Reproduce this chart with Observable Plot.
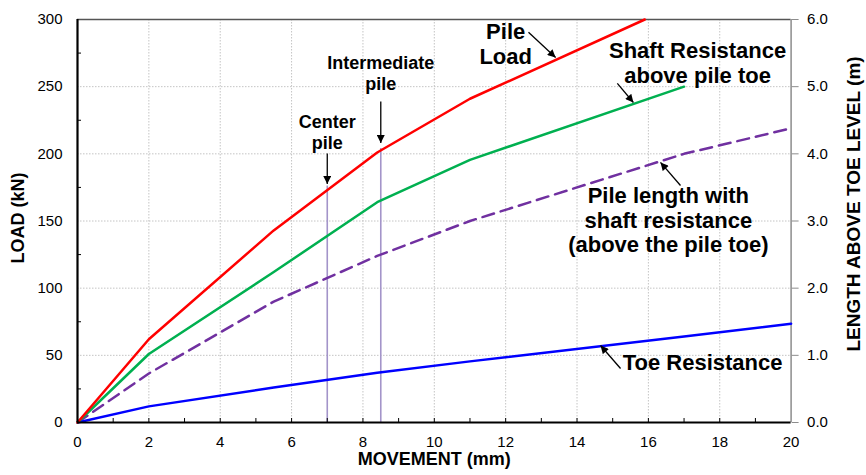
<!DOCTYPE html>
<html><head><meta charset="utf-8">
<script src="https://cdn.jsdelivr.net/npm/d3@7"></script>
<script src="https://cdn.jsdelivr.net/npm/@observablehq/plot@0.6"></script>
<style>body{margin:0;background:#fff} svg{display:block}</style>
</head><body><div id="chart"></div>
<script>
// ---- data ----
const pileLoadMovement = [0, 2, 5.5, 8.4, 11, 15.9];
const pileLoadKN       = [0, 62, 143, 201, 241, 300];
const shaftMovement    = [0, 2, 5.5, 8.4, 11, 17];
const shaftKN          = [0, 51, 112, 164, 195.5, 250];
const toeMovement      = [0, 2, 5.5, 8.4, 11, 17, 20];
const toeKN            = [0, 12, 26, 37, 45.5, 64, 73.5];
const lengthMovement   = [0, 2, 5.5, 8.4, 11, 17, 20];
const lengthM          = [0, 0.73, 1.8, 2.48, 3.0, 4.0, 4.38];
const pileMarkMovement = [7.0, 8.5];
const pileMarkTopKN    = [176, 204];

const xTicks   = [0, 2, 4, 6, 8, 10, 12, 14, 16, 18, 20];
const xMinor   = d3.range(1, 20, 1);
const yTicks   = [0, 50, 100, 150, 200, 250, 300];
const yMinor   = [25, 75, 125, 175, 225, 275];
const mTicks   = [0, 1, 2, 3, 4, 5, 6];
const KN_PER_M = 50; // right axis 0–6 m aligned with left axis 0–300 kN

const labelText = ["Pile\nLoad", "Shaft Resistance\nabove pile toe", "Pile length with\nshaft resistance\n(above the pile toe)", "Toe Resistance"];
const labelX    = [12.0, 17.38, 16.56, 17.52];
const labelY    = [282, 268, 151, 44.7];
const smallText = ["Intermediate\npile", "Center\npile"];
const smallX    = [8.5, 7.0];
const smallY    = [260.5, 216.6];
const arrowX1 = [12.64, 8.5, 7.0, 15.13, 16.9, 15.22];
const arrowY1 = [290.5, 239, 200.3, 252.4, 176.4, 40.2];
const arrowX2 = [13.4, 8.5, 7.0, 15.58, 16.34, 14.66];
const arrowY2 = [271.7, 208, 177.5, 238.2, 193.6, 57.3];

// ---- layout ----
const W = 866, H = 475, mL = 77, mR = 75.4, mT = 19, mB = 53;
const kx = (W - mL - mR) / 20, ky = (H - mT - mB) / 300;

const idx = a => a.map((_, i) => i);
const font = "'Liberation Sans', Arial, Helvetica, sans-serif";

const chart = Plot.plot({
  width: W, height: H,
  marginLeft: mL, marginRight: mR, marginTop: mT, marginBottom: mB,
  style: {fontFamily: font, background: "#fff", color: "#000"},
  x: {domain: [0, 20]},
  y: {domain: [0, 300]},
  marks: [
    Plot.ruleX(xTicks.slice(1, -1), {stroke: "#c4c4c4", strokeDasharray: "1.5,1.5", strokeWidth: 1}),
    Plot.ruleY(yTicks.slice(1, -1), {stroke: "#c4c4c4", strokeDasharray: "1.5,1.5", strokeWidth: 1}),
    Plot.ruleX(idx(pileMarkMovement), {x: i => pileMarkMovement[i], y1: 0, y2: i => pileMarkTopKN[i], stroke: "#a394c9", strokeWidth: 1.6}),
    // frame
    Plot.ruleY([300], {stroke: "#555", strokeWidth: 1.3}),
    Plot.ruleX([20], {stroke: "#8c8c8c", strokeWidth: 1.5}),
    Plot.ruleY(yMinor, {x1: 0, x2: 4 / kx, stroke: "#000", strokeWidth: 1}),
    Plot.ruleX(xMinor, {y1: 0, y2: 4 / ky, stroke: "#000", strokeWidth: 1}),
    // series
    Plot.line(idx(lengthMovement), {x: i => lengthMovement[i], y: i => lengthM[i] * KN_PER_M, stroke: "#7030a0", strokeWidth: 2.5, strokeDasharray: "12,7"}),
    Plot.line(idx(toeMovement), {x: i => toeMovement[i], y: i => toeKN[i], stroke: "#0000ff", strokeWidth: 2.5}),
    Plot.line(idx(shaftMovement), {x: i => shaftMovement[i], y: i => shaftKN[i], stroke: "#00b050", strokeWidth: 2.5}),
    Plot.line(idx(pileLoadMovement), {x: i => pileLoadMovement[i], y: i => pileLoadKN[i], stroke: "#ff0000", strokeWidth: 2.5}),
    Plot.ruleY([0], {stroke: "#000", strokeWidth: 2.2}),
    Plot.ruleX([0], {stroke: "#000", strokeWidth: 2.2}),
    // axes
    Plot.axisX({ticks: xTicks, tickSize: 0, tickPadding: 14, fontSize: 15, label: null, tickFormat: d => String(d)}),
    Plot.axisY({anchor: "left", ticks: yTicks, tickSize: 0, tickPadding: 15, fontSize: 15, label: null, tickFormat: d => String(d)}),
    Plot.axisY({anchor: "right", ticks: mTicks.map(m => m * KN_PER_M), tickSize: 7, tickPadding: 9, fontSize: 15, label: null,
      stroke: "#8c8c8c", fill: "#000", tickFormat: d => (d / KN_PER_M).toFixed(1)}),
    Plot.text(["MOVEMENT (mm)"], {frameAnchor: "bottom", textAnchor: "middle", lineAnchor: "middle", dy: 37, fontSize: 18, fontWeight: "bold"}),
    Plot.text(["LOAD (kN)"], {frameAnchor: "left", textAnchor: "middle", lineAnchor: "middle", rotate: -90, dx: -59, dy: -3, fontSize: 18, fontWeight: "bold"}),
    Plot.text(["LENGTH ABOVE TOE LEVEL (m)"], {frameAnchor: "right", textAnchor: "middle", lineAnchor: "middle", rotate: -90, dx: 63, dy: -17, fontSize: 19, fontWeight: "bold"}),
    // annotations
    Plot.link(idx(arrowX1), {x1: i => arrowX1[i], y1: i => arrowY1[i], x2: i => arrowX2[i], y2: i => arrowY2[i], stroke: "#000", strokeWidth: 1.3}),
    Plot.text(idx(labelText), {x: i => labelX[i], y: i => labelY[i], text: i => labelText[i], fontSize: 22, fontWeight: "bold", lineHeight: 1.12, fill: "#000"}),
    Plot.text(idx(smallText), {x: i => smallX[i], y: i => smallY[i], text: i => smallText[i], fontSize: 18, fontWeight: "bold", lineHeight: 1.17, fill: "#000"})
  ]
});

// filled arrowheads for the annotation pointers
const svg = d3.select(chart);
const defs = svg.insert("defs", ":first-child");
defs.append("marker").attr("id", "ah").attr("viewBox", "0 0 10 10")
  .attr("refX", 10).attr("refY", 5).attr("markerWidth", 9).attr("markerHeight", 8)
  .attr("markerUnits", "userSpaceOnUse").attr("orient", "auto")
  .append("path").attr("d", "M0,0L10,5L0,10z").attr("fill", "#000");
svg.selectAll('g[aria-label="link"] path').attr("marker-end", "url(#ah)");

document.getElementById("chart").append(chart);
</script>
</body></html>
